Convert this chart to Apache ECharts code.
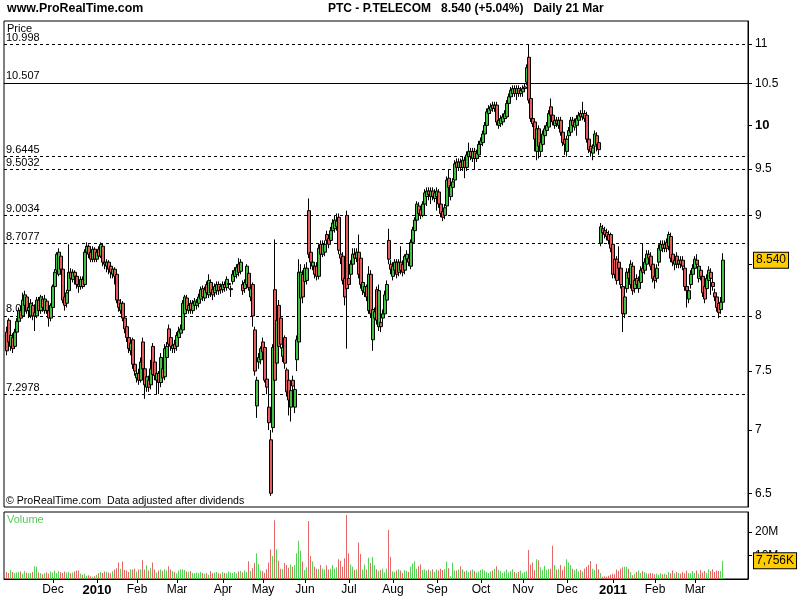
<!DOCTYPE html>
<html><head><meta charset="utf-8">
<script src="https://cdn.jsdelivr.net/npm/echarts@6/dist/echarts.min.js"></script>
<style>html,body{margin:0;padding:0;background:#fff;}#c{width:800px;height:600px;}</style>
</head><body><div id="c"></div>
<script>
// ---- trading calendar ----
const startDate = [2009, 9, 29];   // 29 Oct 2009
const endDate = [2011, 2, 21];     // 21 Mar 2011
const holidays = ['2009-12-25', '2010-01-01', '2010-04-02', '2010-04-05'];
const monthNames = ['Jan','Feb','Mar','Apr','May','Jun','Jul','Aug','Sep','Oct','Nov','Dec'];

// ---- daily candles [open, close, low, high] ----
const ohlc = [
[7.85,7.68,7.64,7.90],[7.96,7.76,7.72,7.98],[7.72,7.82,7.68,7.86],[7.80,7.70,7.66,7.84],[7.72,7.85,7.70,7.88],
[7.85,7.95,7.82,7.98],[7.95,8.05,7.92,8.08],[8.05,7.98,7.95,8.10],[8.00,8.15,7.98,8.22],[8.10,8.20,8.05,8.24],
[8.18,8.05,8.02,8.20],[8.05,8.08,7.98,8.12],[8.00,8.12,7.98,8.16],[8.10,8.00,7.96,8.13],[8.00,8.03,7.86,8.08],
[8.00,8.15,7.98,8.18],[8.15,8.05,8.02,8.18],[8.05,8.18,8.02,8.20],[8.16,8.08,8.04,8.19],[8.05,8.16,8.02,8.20],
[8.14,8.05,8.02,8.16],[8.05,7.98,7.90,8.07],[7.98,8.10,7.95,8.12],
// Dec 2009
[8.08,8.28,8.06,8.30],[8.28,8.42,8.25,8.45],[8.44,8.60,8.42,8.62],[8.40,8.62,8.38,8.66],[8.58,8.45,8.40,8.62],
[8.45,8.15,8.12,8.48],[8.18,8.10,8.05,8.22],[8.12,8.22,8.08,8.25],[8.24,8.42,8.20,8.70],[8.42,8.36,8.32,8.46],
[8.35,8.42,8.32,8.45],[8.42,8.38,8.30,8.44],[8.38,8.30,8.26,8.40],[8.30,8.28,8.22,8.34],[8.28,8.35,8.25,8.38],
[8.35,8.28,8.26,8.38],[8.30,8.62,8.28,8.65],[8.62,8.68,8.58,8.72],[8.68,8.60,8.56,8.70],[8.62,8.55,8.52,8.65],
[8.55,8.65,8.52,8.68],[8.65,8.55,8.52,8.67],
// Jan 2010
[8.55,8.62,8.52,8.65],[8.65,8.58,8.55,8.68],[8.58,8.70,8.56,8.72],[8.68,8.52,8.48,8.70],[8.52,8.50,8.45,8.56],
[8.48,8.52,8.42,8.55],[8.52,8.45,8.40,8.54],[8.48,8.42,8.36,8.50],[8.40,8.45,8.36,8.47],[8.45,8.38,8.30,8.47],
[8.40,8.15,8.12,8.42],[8.15,8.08,8.04,8.18],[8.05,8.12,8.02,8.16],[8.12,7.98,7.95,8.14],[7.98,7.88,7.84,8.00],
[7.90,7.80,7.76,7.92],[7.80,7.70,7.66,7.84],[7.68,7.75,7.64,7.78],[7.78,7.56,7.52,7.80],[7.56,7.50,7.46,7.60],
// Feb 2010
[7.44,7.48,7.40,7.52],[7.48,7.42,7.38,7.52],[7.42,7.58,7.40,7.62],[7.76,7.52,7.48,7.80],[7.52,7.38,7.26,7.55],
[7.36,7.45,7.32,7.48],[7.42,7.36,7.32,7.46],[7.38,7.52,7.34,7.60],[7.72,7.47,7.44,7.75],[7.58,7.46,7.42,7.60],
[7.42,7.48,7.30,7.52],[7.48,7.40,7.30,7.50],[7.40,7.62,7.36,7.66],[7.52,7.44,7.40,7.56],[7.45,7.70,7.42,7.74],
[7.62,7.72,7.58,7.76],[7.88,7.74,7.70,7.92],[7.80,7.72,7.68,7.84],[7.70,7.73,7.66,7.76],[7.74,7.70,7.66,7.78],
// Mar 2010
[7.72,7.82,7.68,7.85],[7.80,7.86,7.76,7.90],[7.84,7.88,7.80,7.92],[7.87,8.12,7.85,8.15],[8.02,8.18,7.98,8.20],
[8.17,8.06,8.02,8.20],[8.05,8.10,8.02,8.13],[8.12,8.06,8.02,8.15],[8.05,8.12,8.02,8.15],[8.10,8.14,8.06,8.17],
[8.10,8.13,8.06,8.16],[8.12,8.18,8.08,8.21],[8.16,8.25,8.13,8.28],[8.26,8.18,8.14,8.29],[8.17,8.25,8.14,8.28],
[8.30,8.22,8.18,8.33],[8.20,8.34,8.17,8.40],[8.32,8.22,8.18,8.35],[8.25,8.20,8.15,8.28],[8.22,8.28,8.18,8.31],
[8.24,8.30,8.20,8.33],[8.30,8.24,8.20,8.33],[8.28,8.25,8.21,8.31],
// Apr 2010
[8.25,8.30,8.22,8.33],[8.30,8.27,8.23,8.33],[8.27,8.35,8.24,8.38],[8.30,8.31,8.26,8.34],[8.25,8.26,8.18,8.29],
[8.33,8.40,8.30,8.44],[8.38,8.44,8.34,8.47],[8.40,8.47,8.36,8.50],[8.50,8.42,8.38,8.56],[8.43,8.52,8.40,8.55],
[8.30,8.24,8.20,8.34],[8.26,8.32,8.22,8.35],[8.30,8.48,8.28,8.50],[8.41,8.27,8.24,8.44],[8.18,8.26,8.14,8.29],
[8.30,8.00,7.90,8.32],[7.87,7.50,7.46,7.90],[7.20,7.42,7.10,7.45],[7.58,7.62,7.52,7.66],[7.60,7.70,7.56,7.72],
// May 2010
[7.76,7.67,7.62,7.80],[7.71,7.42,7.40,7.74],[7.43,7.36,7.30,7.46],[7.19,7.06,7.00,7.36],[6.92,6.50,6.48,7.00],
[7.02,7.71,6.98,7.74],[8.25,7.42,7.38,8.75],[7.57,7.96,7.55,8.00],[8.10,7.72,7.68,8.15],[7.98,7.74,7.70,8.02],
[7.63,7.71,7.58,7.74],[7.80,7.57,7.52,7.82],[7.51,7.32,7.28,7.53],[7.42,7.25,7.12,7.44],[7.19,7.33,7.07,7.36],
[7.42,7.37,7.32,7.46],[7.19,7.34,7.14,7.37],[7.60,7.78,7.50,7.82],[7.76,8.42,7.74,8.55],[8.17,8.42,8.10,8.50],
[8.40,8.18,8.12,8.44],
// Jun 2010
[8.33,8.46,8.30,8.50],[8.34,8.46,8.30,8.52],[9.05,8.60,8.56,9.18],[8.62,8.52,8.45,8.66],[8.48,8.52,8.44,8.58],
[8.48,8.40,8.36,8.52],[8.48,8.38,8.34,8.52],[8.38,8.66,8.35,8.70],[8.70,8.60,8.56,8.74],[8.60,8.70,8.57,8.74],
[8.62,8.70,8.58,8.74],[8.80,8.74,8.70,8.84],[8.76,8.70,8.66,8.80],[8.74,8.84,8.70,8.88],[8.84,8.92,8.80,8.96],
[8.86,8.95,8.82,9.00],[8.88,8.94,8.84,9.02],[8.98,8.64,8.60,9.02],[8.60,8.56,8.50,8.64],[8.58,8.34,8.30,8.62],
[8.36,8.18,8.10,8.40],[9.00,8.26,7.70,9.05],
// Jul 2010
[8.36,8.30,8.26,8.40],[8.40,8.50,8.36,8.54],[8.50,8.60,8.46,8.66],[8.60,8.56,8.52,8.66],[8.56,8.62,8.52,8.66],
[8.62,8.40,8.36,8.80],[8.56,8.30,8.26,8.60],[8.24,8.32,8.20,8.36],[8.22,8.28,8.18,8.32],[8.28,8.18,8.14,8.30],
[8.05,8.40,8.02,8.48],[8.40,8.02,7.98,8.44],[7.78,8.06,7.68,8.10],[7.98,8.04,7.94,8.08],[8.25,7.96,7.92,8.28],
[7.90,8.24,7.86,8.30],[7.94,7.90,7.85,7.97],[7.98,8.02,7.94,8.06],[8.02,8.20,8.00,8.24],[8.15,8.30,8.12,8.34],
[8.74,8.55,8.50,8.86],[8.50,8.45,8.40,8.54],
// Aug 2010
[8.38,8.48,8.34,8.52],[8.44,8.52,8.40,8.55],[8.52,8.40,8.36,8.55],[8.42,8.52,8.38,8.55],[8.52,8.44,8.40,8.68],
[8.50,8.42,8.38,8.54],[8.44,8.58,8.40,8.60],[8.55,8.60,8.50,8.64],[8.56,8.52,8.48,8.60],[8.48,8.72,8.45,8.75],
[8.72,8.85,8.70,8.88],[8.84,8.95,8.80,8.98],[8.95,9.12,8.92,9.15],[9.10,9.02,8.98,9.14],[9.06,9.00,8.96,9.10],
[9.00,9.12,8.98,9.15],[9.12,9.24,9.10,9.28],[9.20,9.26,9.10,9.30],[9.26,9.22,9.16,9.30],[9.20,9.26,9.12,9.30],
[9.26,9.20,9.16,9.30],[9.18,9.24,9.14,9.28],
// Sep 2010
[9.20,9.26,9.05,9.30],[9.25,9.12,9.08,9.28],[9.12,9.02,8.98,9.16],[9.04,8.98,8.94,9.08],[9.00,9.08,8.96,9.12],
[9.10,9.38,9.08,9.42],[9.40,9.30,9.26,9.50],[9.20,9.32,9.16,9.36],[9.30,9.36,9.26,9.40],[9.38,9.56,9.36,9.60],
[9.58,9.52,9.48,9.62],[9.52,9.58,9.48,9.62],[9.58,9.52,9.48,9.62],[9.52,9.60,9.48,9.64],[9.60,9.52,9.40,9.64],
[9.52,9.66,9.48,9.70],[9.64,9.70,9.60,9.80],[9.70,9.64,9.60,9.74],[9.62,9.70,9.58,9.74],[9.70,9.62,9.50,9.74],
[9.62,9.68,9.58,9.72],[9.66,9.78,9.62,9.82],
// Oct 2010
[9.78,9.82,9.74,9.86],[9.80,9.90,9.76,9.94],[9.90,10.00,9.86,10.04],[10.00,10.16,9.98,10.20],[10.14,10.20,10.10,10.24],
[10.18,10.22,10.14,10.26],[10.24,10.20,10.16,10.28],[10.20,10.24,10.16,10.28],[10.24,10.04,10.00,10.28],[10.00,10.06,9.96,10.10],
[10.02,10.08,9.98,10.12],[10.04,10.10,10.00,10.14],[10.08,10.14,10.04,10.18],[10.10,10.26,10.08,10.30],[10.26,10.34,10.22,10.38],
[10.34,10.42,10.30,10.46],[10.38,10.44,10.34,10.48],[10.44,10.38,10.34,10.48],[10.38,10.44,10.30,10.48],[10.44,10.38,10.34,10.48],
[10.38,10.42,10.34,10.46],
// Nov 2010
[10.40,10.44,10.34,10.48],[10.44,10.46,10.40,10.50],[10.52,10.70,10.48,10.74],[10.83,10.30,10.26,11.00],[10.32,10.08,10.04,10.36],
[10.08,10.02,9.98,10.12],[10.04,9.84,9.70,10.06],[9.70,9.96,9.60,10.00],[9.96,9.76,9.62,10.00],[9.70,9.80,9.64,9.84],
[9.78,9.90,9.74,9.94],[9.88,9.96,9.84,10.00],[9.94,10.00,9.90,10.04],[9.98,10.14,9.96,10.18],[10.22,10.12,10.08,10.32],
[10.12,10.04,10.00,10.16],[10.00,10.06,9.96,10.10],[10.06,10.02,9.98,10.10],[10.00,10.06,9.96,10.10],[10.06,9.92,9.88,10.10],
[9.92,9.80,9.76,9.96],[9.84,9.78,9.66,9.88],
// Dec 2010
[9.70,9.84,9.64,9.88],[9.88,9.94,9.84,9.98],[9.92,10.06,9.88,10.10],[10.06,10.00,9.96,10.10],[9.98,10.04,9.94,10.08],
[10.00,10.08,9.88,10.12],[10.06,10.12,10.02,10.16],[10.14,10.10,10.06,10.18],[10.10,10.14,10.06,10.28],[10.14,10.08,10.04,10.18],
[10.12,9.84,9.80,10.16],[9.84,9.72,9.68,9.88],[9.76,9.70,9.64,9.80],[9.68,9.74,9.60,9.78],[9.76,9.90,9.72,9.94],
[9.88,9.78,9.70,9.92],[9.80,9.72,9.66,9.84],[8.71,8.88,8.68,8.92],[8.86,8.82,8.78,8.90],[8.84,8.80,8.76,8.88],
[8.82,8.78,8.74,8.86],[8.80,8.74,8.70,8.84],[8.80,8.66,8.62,8.82],
// Jan 2011
[8.70,8.40,8.36,8.72],[8.55,8.40,8.36,8.64],[8.55,8.34,8.30,8.58],[8.52,8.46,8.40,8.68],[8.46,8.30,8.26,8.50],
[8.28,8.02,7.85,8.30],[8.02,8.18,7.98,8.22],[8.26,8.42,8.22,8.46],[8.42,8.36,8.32,8.46],[8.30,8.50,8.26,8.54],
[8.48,8.24,8.20,8.52],[8.26,8.34,8.22,8.38],[8.36,8.30,8.26,8.40],[8.26,8.34,8.22,8.38],[8.32,8.44,8.28,8.48],
[8.46,8.42,8.38,8.71],[8.44,8.52,8.40,8.56],[8.50,8.60,8.46,8.64],[8.60,8.56,8.52,8.64],[8.58,8.48,8.44,8.62],
[8.50,8.36,8.32,8.54],
// Feb 2011
[8.38,8.34,8.26,8.42],[8.36,8.46,8.32,8.50],[8.52,8.66,8.48,8.70],[8.64,8.70,8.60,8.74],[8.70,8.66,8.62,8.74],
[8.66,8.70,8.62,8.74],[8.72,8.66,8.62,8.76],[8.68,8.80,8.64,8.83],[8.78,8.56,8.52,8.82],[8.60,8.52,8.48,8.64],
[8.50,8.54,8.44,8.58],[8.58,8.50,8.46,8.62],[8.50,8.54,8.46,8.58],[8.54,8.50,8.46,8.58],[8.54,8.48,8.44,8.58],
[8.46,8.28,8.24,8.50],[8.28,8.24,8.08,8.32],[8.16,8.24,8.12,8.28],[8.30,8.40,8.26,8.44],[8.40,8.46,8.36,8.50],
// Mar 2011
[8.46,8.55,8.42,8.58],[8.54,8.50,8.46,8.60],[8.36,8.48,8.32,8.52],[8.44,8.38,8.34,8.48],[8.38,8.22,8.18,8.42],
[8.28,8.16,8.12,8.32],[8.26,8.36,8.22,8.40],[8.34,8.44,8.30,8.48],[8.42,8.36,8.20,8.46],[8.32,8.28,8.24,8.36],
[8.22,8.18,8.14,8.26],[8.18,8.08,8.04,8.22],[8.12,8.03,7.98,8.15],[8.06,8.13,8.02,8.18],[8.13,8.54,8.10,8.61]
];

// ---- daily volume, millions of shares ----
const volumes = [
3.0,2.6,3.8,3.0,2.4,2.8,3.0,3.2,2.2,3.4,2.8,2.4,2.6,3.0,5.4,5.2,2.8,2.6,2.0,2.4,2.8,2.2,3.2,
2.8,3.6,2.6,3.4,3.0,2.6,3.2,2.8,3.0,2.4,2.8,3.2,3.6,3.6,2.2,1.8,2.2,1.4,1.6,1.2,1.0,1.2,
1.8,2.4,3.0,2.6,3.2,3.0,2.8,2.4,3.4,4.0,4.6,7.0,4.4,7.4,3.8,3.6,3.0,4.2,4.0,4.4,
3.2,4.0,4.2,8.0,4.0,5.8,3.6,4.6,7.0,4.0,2.8,3.6,4.0,3.4,4.2,3.6,5.4,4.0,3.4,3.0,
2.4,3.6,4.2,4.2,3.8,3.2,3.0,3.4,2.6,2.4,2.8,2.4,3.0,2.6,2.2,2.4,1.8,3.4,2.4,2.8,3.0,2.4,2.2,
3.0,2.6,2.4,3.2,2.8,2.6,3.0,2.4,3.2,3.4,2.8,3.6,3.0,7.6,3.4,4.6,6.8,11.0,6.4,3.6,
3.4,2.6,4.2,7.0,12.6,9.8,25.0,12.6,7.8,4.4,4.4,6.8,6.0,4.8,6.2,5.2,6.0,11.0,16.3,12.0,7.4,
3.8,5.0,24.7,9.8,7.4,5.2,4.4,4.4,6.0,4.4,4.0,5.8,4.0,4.4,6.0,4.4,5.0,8.4,7.8,5.2,8.8,27.2,
11.0,6.2,5.2,3.8,4.2,15.5,10.6,4.0,6.2,4.0,9.0,6.8,9.5,5.8,4.2,3.4,3.8,4.4,2.8,4.4,20.9,9.5,
3.2,3.0,3.6,4.2,3.6,2.6,3.8,3.4,3.0,5.2,6.6,7.6,4.4,5.4,6.2,3.8,4.0,3.6,4.0,3.4,4.2,
3.0,4.0,3.6,4.4,3.8,4.2,7.4,4.6,1.2,7.0,3.6,3.6,4.0,5.4,4.0,3.2,3.6,3.0,3.6,4.0,3.4,2.8,
3.2,3.8,4.2,3.6,3.0,2.6,3.2,3.6,4.4,5.4,3.8,3.4,2.6,3.2,4.0,2.8,3.4,4.2,3.0,2.6,3.0,3.6,
2.4,3.0,3.4,12.3,6.2,7.0,3.8,8.4,8.0,5.0,3.8,5.6,3.8,4.4,4.4,14.2,6.0,4.0,4.4,6.0,3.8,5.4,
8.4,7.0,6.0,4.4,3.8,4.4,3.2,3.8,3.2,4.4,5.2,6.0,7.7,4.4,3.8,6.4,4.2,2.6,1.0,1.2,1.0,1.4,1.8,2.2,2.0,
4.0,3.4,4.4,5.0,5.2,5.2,4.4,3.0,1.6,2.2,3.0,3.6,2.6,3.4,3.0,2.4,2.2,2.6,2.4,2.0,2.2,
1.8,2.4,2.0,2.2,1.8,3.0,2.4,3.6,2.4,3.0,2.6,2.2,3.0,2.4,3.6,2.6,2.4,3.4,2.6,3.6,2.2,3.8,2.8,
3.4,2.6,4.2,3.4,4.2,3.0,3.6,3.4,3.4,7.756
];

// ---- axis ticks and reference levels ----
const priceTicks = [6.5, 7, 7.5, 8, 8.5, 9, 9.5, 10, 10.5, 11];
const volumeTicks = [10, 20];
const levelValues = [10.998, 10.507, 9.6445, 9.5032, 9.0034, 8.7077, 8.0045, 7.2978];
const levelLabels = ['10.998', '10.507', '9.6445', '9.5032', '9.0034', '8.7077', '8.0045', '7.2978'];
const levelSolid = [false, true, false, false, false, false, false, false];
const lastPrice = 8.540, lastPriceLabel = '8.540';
const lastVolume = 7.756, lastVolumeLabel = '7,756K';

// ---- build calendar ----
function iso(d) { return d.toISOString().slice(0, 10); }
const categories = [];
for (let d = new Date(Date.UTC(startDate[0], startDate[1], startDate[2]));
     d <= new Date(Date.UTC(endDate[0], endDate[1], endDate[2]));
     d.setUTCDate(d.getUTCDate() + 1)) {
  const wd = d.getUTCDay();
  const s = iso(d);
  if (wd === 0 || wd === 6 || holidays.indexOf(s) >= 0) continue;
  categories.push(s);
}
const padStart = 1, padEnd = 12;
const axisCats = ['pad_s'];
categories.forEach(c => axisCats.push(c));
for (let k = 0; k < padEnd; k++) axisCats.push('pad_e' + k);

const monthStart = new Set();
for (let i = 1; i < categories.length; i++) {
  if (categories[i].slice(5, 7) !== categories[i - 1].slice(5, 7) && i > 10) monthStart.add(i + padStart);
}
const showIdx = (idx) => monthStart.has(idx);

const UP = '#44c044', DOWN = '#e45c5c';
const VUP = '#55d455', VDOWN = '#e46868';

const n = Math.min(ohlc.length, categories.length);
const candleData = [];
const volData = [];
for (let i = 0; i < n; i++) {
  const r = ohlc[i];
  candleData.push([i + padStart, r[0], r[1], r[2], r[3]]);
  if (i < volumes.length) {
    volData.push({ value: [i + padStart, volumes[i]], itemStyle: { color: r[1] >= r[0] ? VUP : VDOWN } });
  }
}

const FONT = 'Liberation Sans, Arial, sans-serif';
const chart = echarts.init(document.getElementById('c'), null, { renderer: 'canvas' });

const hiddenLine = { color: 'rgba(0,0,0,0)', width: 0, opacity: 1 };
const boxLabel = (txt) => ({ show: true, position: 'end', formatter: txt, color: '#000', fontSize: 12, fontFamily: FONT,
  backgroundColor: '#ffcc00', borderColor: '#000', borderWidth: 1, padding: [2, 2, 1, 2], distance: 6 });

const levelData = levelValues.map((v, i) => ({
  yAxis: v,
  lineStyle: { type: levelSolid[i] ? 'solid' : [3, 3], color: '#000', width: 1, opacity: 1 },
  label: { show: true, position: 'insideStartTop', formatter: levelLabels[i], color: '#000',
           fontSize: 11, fontFamily: FONT, distance: [2, 1] }
}));

const option = {
  animation: false,
  textStyle: { fontFamily: FONT },
  grid: [
    { left: 4, top: 21, width: 744, height: 486, show: true, borderColor: '#000', borderWidth: 1, backgroundColor: '#fff' },
    { left: 4, top: 512, width: 744, height: 67, show: true, borderColor: '#000', borderWidth: 1, backgroundColor: '#fff' }
  ],
  xAxis: [
    { type: 'category', gridIndex: 0, data: axisCats, show: false, boundaryGap: true },
    { type: 'category', gridIndex: 1, data: axisCats, boundaryGap: true,
      axisLine: { show: true, lineStyle: { color: '#000', width: 1 } },
      axisTick: { show: true, interval: showIdx, alignWithLabel: true, length: 4, lineStyle: { color: '#000' } },
      axisLabel: { interval: showIdx, margin: 5, color: '#000', fontSize: 12, fontFamily: FONT,
        formatter: (v) => {
          if (!v || v.indexOf('pad') === 0) return '';
          const m = parseInt(v.slice(5, 7), 10) - 1;
          if (m === 0) return '{y|' + v.slice(0, 4) + '}';
          return monthNames[m];
        },
        rich: { y: { fontWeight: 'bold', fontSize: 13, fontFamily: FONT, color: '#000' } } },
      splitLine: { show: false } }
  ],
  yAxis: [
    { type: 'log', logBase: 10, gridIndex: 0, position: 'right', min: 6.3965, max: 11.3,
      axisLine: { show: true, lineStyle: { color: '#000' } },
      splitLine: { show: false },
      axisTick: { show: true, customValues: priceTicks, length: 4, lineStyle: { color: '#000' } },
      axisLabel: { show: true, customValues: priceTicks, margin: 7, color: '#000', fontSize: 12, fontFamily: FONT,
        formatter: (v) => (Math.abs(v - 10) < 1e-9 ? '{b|10}' : String(v)),
        rich: { b: { fontWeight: 'bold', fontSize: 13, fontFamily: FONT, color: '#000' } } } },
    { type: 'value', gridIndex: 1, position: 'right', min: 0, max: 28.51,
      axisLine: { show: true, lineStyle: { color: '#000' } },
      splitLine: { show: false },
      axisTick: { show: true, customValues: volumeTicks, length: 4, lineStyle: { color: '#000' } },
      axisLabel: { show: true, customValues: volumeTicks, margin: 7, color: '#000', fontSize: 12, fontFamily: FONT,
        formatter: (v) => v + 'M' } }
  ],
  series: [
    { type: 'candlestick', xAxisIndex: 0, yAxisIndex: 0, z: 3,
      encode: { x: 0, y: [1, 2, 3, 4] },
      data: candleData, barWidth: 3,
      itemStyle: { color: UP, color0: DOWN, borderColor: '#000', borderColor0: '#000', borderColorDoji: '#000', borderWidth: 1 },
      markLine: { silent: true, symbol: 'none', z: 1, animation: false, data: levelData } },
    { type: 'bar', xAxisIndex: 1, yAxisIndex: 1, data: volData, barWidth: 1, barGap: '0%', z: 3,
      markLine: { silent: true, symbol: 'none', z: 5, animation: false,
        data: [{ yAxis: lastVolume, lineStyle: hiddenLine, label: boxLabel(lastVolumeLabel) }] } },
    // empty companion bar series: shifts the volume bars half a pixel so they land on whole pixels
    { type: 'bar', xAxisIndex: 1, yAxisIndex: 1, data: [], barWidth: 1, barGap: '0%', silent: true },
    { type: 'line', xAxisIndex: 0, yAxisIndex: 0, data: [], z: 5, silent: true,
      markLine: { silent: true, symbol: 'none', z: 6, animation: false,
        data: [{ yAxis: lastPrice, lineStyle: hiddenLine, label: boxLabel(lastPriceLabel) }] } }
  ],
  graphic: [
    { type: 'text', left: 7, top: 3, style: { text: 'www.ProRealTime.com', font: 'bold 12.4px ' + FONT, fill: '#000' } },
    { type: 'text', left: 328, top: 3, style: { text: 'PTC - P.TELECOM   8.540 (+5.04%)   Daily 21 Mar', font: 'bold 12px ' + FONT, fill: '#000' } },
    { type: 'text', left: 7, top: 23, z: 10, style: { text: 'Price', font: '11px ' + FONT, fill: '#000' } },
    { type: 'text', left: 6, top: 496, z: 10, style: { text: '\u00a9 ProRealTime.com  Data adjusted after dividends', font: '10.6px ' + FONT, fill: '#000' } },
    { type: 'text', left: 7, top: 514, z: 10, style: { text: 'Volume', font: '11px ' + FONT, fill: '#55cc55' } }
  ]
};
chart.setOption(option);
</script>
</body></html>
